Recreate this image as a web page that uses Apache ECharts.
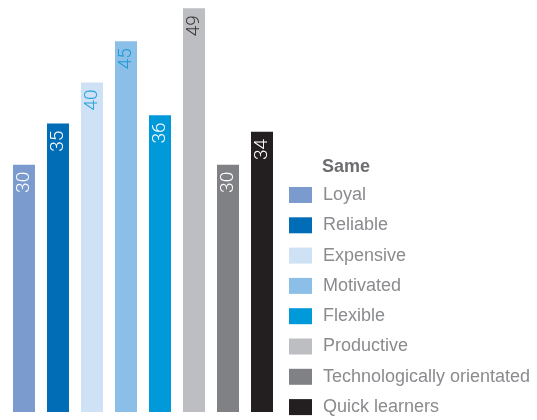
<!DOCTYPE html>
<html>
<head>
<meta charset="utf-8">
<script src="https://cdn.jsdelivr.net/npm/echarts@6/dist/echarts.min.js"></script>
<style>
html,body{margin:0;padding:0;background:#fff;}
#chart{width:537px;height:420px;}
</style>
</head>
<body>
<div id="chart"></div>
<script>
var categories = ["Loyal", "Reliable", "Expensive", "Motivated", "Flexible", "Productive", "Technologically orientated", "Quick learners"];
var values = [30, 35, 40, 45, 36, 49, 30, 34];
var legendTitle = "Same";
var colors = ["#7b9bcf", "#006db6", "#cfe1f4", "#8cbfe7", "#0099da", "#bdbec2", "#808184", "#231f20"];
var labelColors = ["#ffffff", "#ffffff", "#2aa3dc", "#1e9ad6", "#ffffff", "#3a3a3a", "#ffffff", "#ffffff"];

var chart = echarts.init(document.getElementById('chart'), null, {renderer: 'canvas'});

var series = categories.map(function (name, i) {
  var data = categories.map(function (c, j) { return j === i ? values[i] : '-'; });
  return {
    name: name,
    type: 'bar',
    stack: 'all',
    barWidth: 22,
    data: data,
    itemStyle: {color: colors[i]},
    label: {
      show: true,
      position: 'insideTop',
      distance: 7,
      rotate: 90,
      align: 'right',
      verticalAlign: 'middle',
      color: labelColors[i],
      fontSize: 19,
      fontFamily: 'Roboto',
      fontWeight: 300
    },
    emphasis: {disabled: true}
  };
});

chart.setOption({
  animation: false,
  title: {
    text: legendTitle,
    left: 322,
    top: 158,
    padding: 0,
    textStyle: {fontSize: 18, fontWeight: 'bold', color: '#6d6e71', fontFamily: 'Liberation Sans'}
  },
  legend: {
    orient: 'vertical',
    left: 289,
    top: 186,
    height: 234,
    padding: 0,
    itemWidth: 23,
    itemHeight: 16,
    itemGap: 12.3,
    icon: 'rect',
    selectedMode: false,
    data: categories,
    textStyle: {fontSize: 18, color: '#8a8b8e', fontFamily: 'Liberation Sans', padding: [0, 0, 0, 6]}
  },
  grid: {left: 7, width: 272, top: 0, bottom: 8, containLabel: false},
  xAxis: {
    type: 'category',
    data: categories,
    show: false
  },
  yAxis: {
    type: 'value',
    min: 0,
    max: 50,
    show: false
  },
  series: series
});
</script>
</body>
</html>
